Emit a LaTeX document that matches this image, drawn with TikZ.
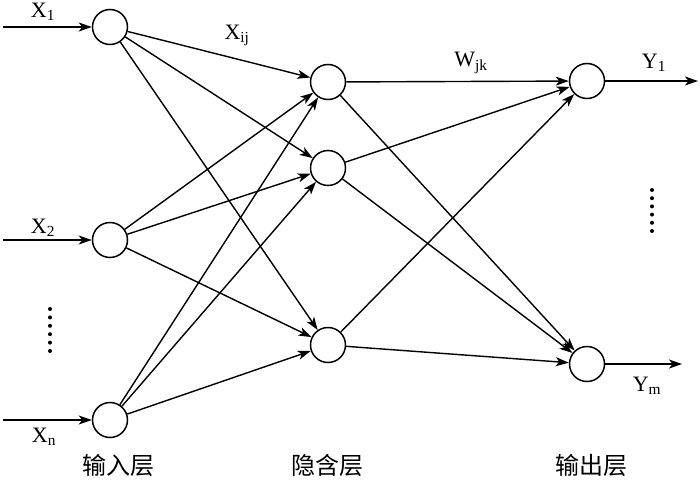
\documentclass[tikz,border=0pt]{standalone}
\usepackage{fontspec}
\setmainfont{Liberation Serif}
\newfontfamily\cjk{Noto Sans CJK SC}
\usetikzlibrary{arrows.meta}
\begin{document}
\begin{tikzpicture}[x=1pt,y=-1pt,
  neuron/.style={draw,circle,line width=1.5pt,minimum size=35pt,inner sep=0pt},
  conn/.style={line width=1.4pt,-{Stealth[length=13pt,width=9pt,inset=3.5pt]}},
  lab/.style={font=\fontsize{22}{22}\selectfont,inner sep=0pt},
  layer/.style={font=\cjk\fontsize{24}{24}\selectfont,inner sep=0pt},
  dotcol/.style={fill,circle,inner sep=0pt,minimum size=4pt}]
\useasboundingbox (0,0) rectangle (700,479);
% input layer
\node[neuron] (i1) at (110,27) {};
\node[neuron] (i2) at (110,240) {};
\node[neuron] (i3) at (110,420) {};
% hidden layer
\node[neuron] (h1) at (328,82) {};
\node[neuron] (h2) at (328,168) {};
\node[neuron] (h3) at (328,345) {};
% output layer
\node[neuron] (o1) at (587,81) {};
\node[neuron] (o2) at (587,364) {};
% input arrows
\coordinate (s1) at (3,27);
\coordinate (s2) at (3,240);
\coordinate (s3) at (3,420);
\draw[conn] (s1) -- (i1);
\draw[conn] (s2) -- (i2);
\draw[conn] (s3) -- (i3);
% output arrows
\coordinate (e1) at (698,81);
\coordinate (e2) at (682,364);
\draw[conn] (o1) -- (e1);
\draw[conn] (o2) -- (e2);
% connections
\foreach \a in {i1,i2,i3}
  \foreach \b in {h1,h2,h3}
    \draw[conn] (\a) -- (\b);
\foreach \a in {h1,h2,h3}
  \foreach \b in {o1,o2}
    \draw[conn] (\a) -- (\b);
% labels
\node[lab] (lx1) at (43,12) {X\textsubscript{1}};
\node[lab] (lx2) at (43,228) {X\textsubscript{2}};
\node[lab] (lxn) at (44,437) {X\textsubscript{n}};
\node[lab] (lxij) at (237,35) {X\textsubscript{ij}};
\node[lab] (lwjk) at (471,63) {W\textsubscript{jk}};
\node[lab] (ly1) at (654,63) {Y\textsubscript{1}};
\node[lab] (lym) at (647,386) {Y\textsubscript{m}};
% dots
\foreach \k in {0,...,5} {
  \node[dotcol] (dl\k) at (50,309+8.4*\k) {};
  \node[dotcol] (dr\k) at (652,190+8.2*\k) {};
}
% layer names
\node[layer] (n1) at (118,465) {输入层};
\node[layer] (n2) at (327,465) {隐含层};
\node[layer] (n3) at (591,465) {输出层};
\end{tikzpicture}
\end{document}
